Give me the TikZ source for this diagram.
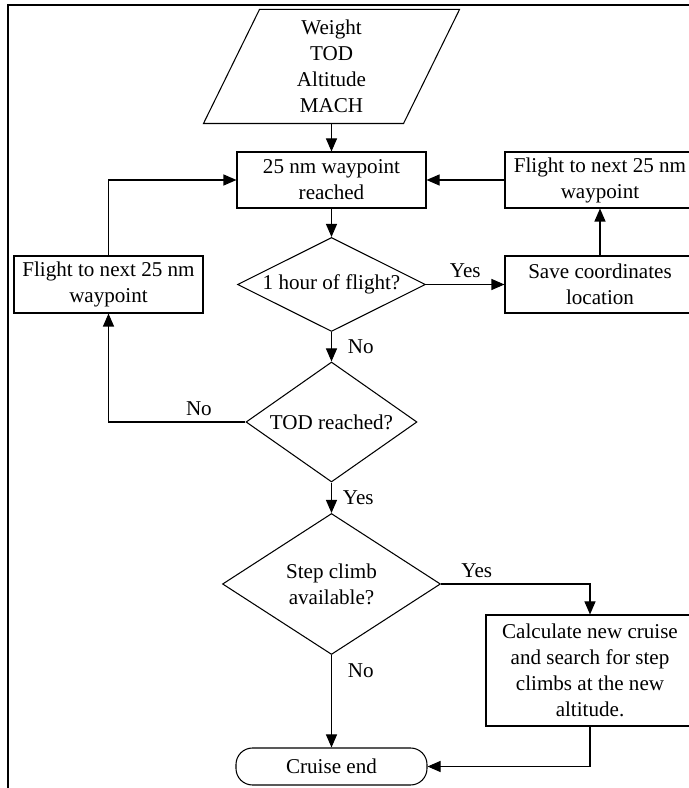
\documentclass[tikz,border=0pt]{standalone}
\usepackage{fontspec}
\setmainfont{Liberation Serif}
\usetikzlibrary{shapes.geometric,arrows.meta}

\tikzset{
  box/.style={draw, rectangle, inner sep=0pt, align=center},
  decision/.style={draw, diamond, inner sep=0pt, align=center},
  term/.style={draw, rectangle, rounded corners=0.33cm, inner sep=0pt, align=center},
  flow/.style={-{Triangle[length=0.26cm,width=0.22cm]}}
}

\begin{document}
\begin{tikzpicture}[line width=0.6pt, font=\fontsize{12}{14.8}\selectfont]
\useasboundingbox (0,0) rectangle (13.760,15.760);
\draw[line width=1.1pt] (0.160,-0.500) rectangle (14.200,15.660);

\node[minimum width=3.980cm, minimum height=2.260cm, align=center, inner sep=0pt] (in) at (6.630,14.430) {Weight\\TOD\\Altitude\\MACH};
\draw ([xshift=0.560cm]in.north west) -- ([xshift=0.560cm]in.north east) -- ([xshift=-0.560cm]in.south east) -- ([xshift=-0.560cm]in.south west) -- cycle;
\node[box, minimum width=3.780cm, minimum height=1.120cm] (wp) at (6.630,12.160) {25 nm waypoint\\reached};
\node[box, minimum width=3.800cm, minimum height=1.120cm] (fr) at (12.000,12.160) {Flight to next 25 nm\\waypoint};
\node[box, minimum width=3.780cm, minimum height=1.140cm] (fl) at (2.170,10.070) {Flight to next 25 nm\\waypoint};
\node[box, minimum width=3.800cm, minimum height=1.140cm] (save) at (12.000,10.070) {Save coordinates\\location};
\node[decision, minimum width=3.760cm, minimum height=1.880cm, aspect=2] (hour) at (6.630,10.070) {1 hour of flight?};
\node[decision, minimum width=3.420cm, minimum height=2.400cm, aspect=1.4] (tod) at (6.630,7.320) {TOD reached?};
\node[decision, minimum width=4.360cm, minimum height=2.820cm, aspect=1.5] (climb) at (6.630,4.080) {Step climb\\available?};
\node[box, minimum width=4.160cm, minimum height=2.220cm] (calc) at (11.800,2.350) {Calculate new cruise\\and search for step\\climbs at the new\\altitude.};
\node[term, minimum width=3.820cm, minimum height=0.740cm] (cend) at (6.630,0.430) {Cruise end};

\draw[flow] (in.south) -- (wp.north);
\draw[flow] (wp.south) -- (hour.north);
\draw[flow] (fr.west) -- (wp.east);
\draw[flow] (save.north) -- (fr.south);
\draw[flow] (hour.east) -- node[above] {Yes} (save.west);
\draw[flow] (hour.south) -- node[right, xshift=0.2cm] {No} (tod.north);
\draw[flow] (tod.west) -| node[pos=0.17, above] {No} (fl.south);
\draw[flow] (fl.north) |- (wp.west);
\draw[flow] (tod.south) -- node[right, xshift=0.1cm] {Yes} (climb.north);
\draw[flow] (climb.east) -| node[pos=0.12, above] {Yes} (calc.north);
\draw[flow] (climb.south) -- node[pos=0.17, right, xshift=0.2cm] {No} (cend.north);
\draw[flow] (calc.south) |- (cend.east);
\end{tikzpicture}
\end{document}
